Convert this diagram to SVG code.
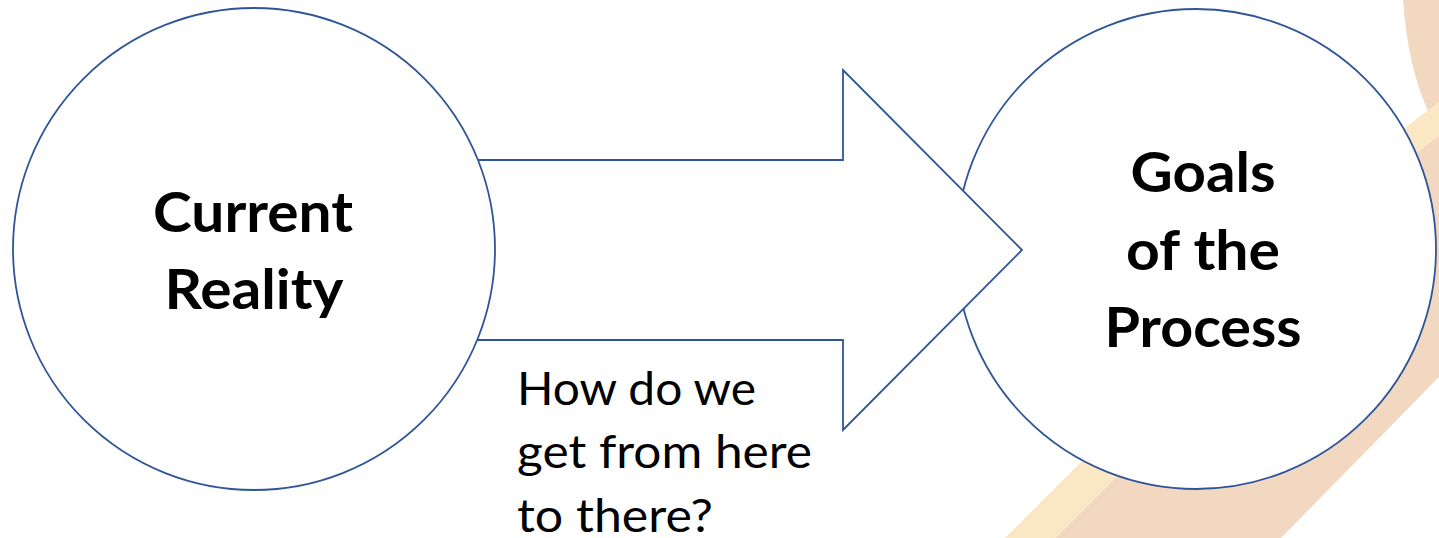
<svg xmlns="http://www.w3.org/2000/svg" width="1439" height="538" viewBox="0 0 1439 538">
<style>
.shape{fill:#ffffff;stroke:#2F5597;stroke-width:1.8}
.bold{font-family:Lato,"Open Sans","Liberation Sans",sans-serif;font-weight:700;font-size:56px;fill:#000}
.reg{font-family:Lato,"Open Sans","Liberation Sans",sans-serif;font-weight:400;font-size:46px;fill:#000}
</style>
<rect width="1439" height="538" fill="#ffffff"/>
<g id="background">
<path d="M1403,0 Q1408,70 1430,115 L1300,300 L1150,443 L1055,538 L1281,538 L1439,377 L1439,0 Z" fill="#F2D8C0"/>
<polygon points="1439,102 1330,184 1330,217 1439,136" fill="#FAE8C4"/>
<polygon points="1005,538 1055,538 1160,433 1110,433" fill="#FAE8C4"/>
</g>
<g id="goals">
<circle class="shape" cx="1196" cy="249" r="240"/>
</g>
<g id="connectors">
<polygon class="shape" points="300,160 843,160 843,70 1022,250 843,430 843,340 300,340"/>
</g>
<g id="current">
<circle class="shape" cx="254" cy="249" r="241"/>
<text class="bold" x="253" y="232" text-anchor="middle" textLength="200" lengthAdjust="spacingAndGlyphs">Current</text>
<text class="bold" x="254" y="309" text-anchor="middle" textLength="179" lengthAdjust="spacingAndGlyphs">Reality</text>
</g>
<g id="goals-label">
<text class="bold" x="1203" y="192" text-anchor="middle" textLength="145" lengthAdjust="spacingAndGlyphs">Goals</text>
<text class="bold" x="1203" y="270" text-anchor="middle" textLength="154" lengthAdjust="spacingAndGlyphs">of the</text>
<text class="bold" x="1203" y="347" text-anchor="middle" textLength="197" lengthAdjust="spacingAndGlyphs">Process</text>
</g>
<g id="question">
<text class="reg" x="517" y="405" textLength="239" lengthAdjust="spacingAndGlyphs">How do we</text>
<text class="reg" x="517" y="468" textLength="295" lengthAdjust="spacingAndGlyphs">get from here</text>
<text class="reg" x="517" y="532" textLength="196" lengthAdjust="spacingAndGlyphs">to there?</text>
</g>
</svg>
